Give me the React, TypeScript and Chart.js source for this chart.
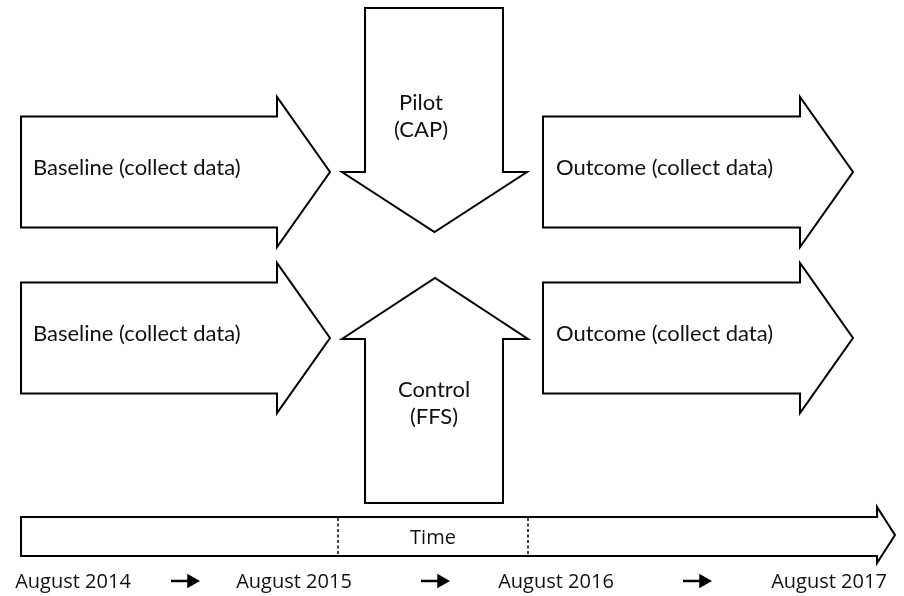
import React, { useEffect, useRef } from "react";
import { Chart, registerables } from "chart.js";

Chart.register(...registerables);

// ---- Horizontal process arrows (Baseline / Outcome) ----
const processLabels = [
  "Baseline (collect data)",
  "Outcome (collect data)",
  "Baseline (collect data)",
  "Outcome (collect data)",
];
const processStartX = [21, 543, 21, 543];
const processNeckX = [277, 800, 277, 800];
const processTipX = [330, 853, 330, 853];
const processCenterY = [172, 172, 338, 338];
const processBodyHalf = [55.5, 55.5, 55.5, 55.5];
const processHeadHalf = [75, 75, 75, 75];
const processTextX = [33, 556, 33, 556];

// ---- Vertical intervention arrows (Pilot / Control) ----
const interventionLine1 = ["Pilot", "Control"];
const interventionLine2 = ["(CAP)", "(FFS)"];
const interventionShaftLeft = [365, 365];
const interventionShaftRight = [503, 503];
const interventionHeadLeft = [342, 342];
const interventionHeadRight = [527, 528];
const interventionBaseY = [8, 503];
const interventionShoulderY = [172, 339];
const interventionTipY = [232, 278];
const interventionTextX = [421, 434];
const interventionTextY1 = [103, 390];
const interventionTextY2 = [130, 417];

// ---- Timeline arrow ----
const timelineLeft = [21];
const timelineTop = [517];
const timelineBottom = [556];
const timelineNeck = [877];
const timelineHeadTop = [507];
const timelineHeadBottom = [563];
const timelineTip = [895];
const timelineDividers = [338, 528];
const timelineLabel = ["Time"];
const timelineLabelX = [433];
const timelineLabelY = [538];

// ---- Date labels and small arrows ----
const dateLabels = ["August 2014", "August 2015", "August 2016", "August 2017"];
const dateCenterX = [73, 294, 556, 829];
const dateY = [582];
const smallArrowStart = [171, 421, 683];
const smallArrowTip = [200, 450, 712];
const smallArrowY = [581];

const W = 904;
const H = 596;

type P = { x: number; y: number };

function closePoly(pts: P[]): P[] {
  return [...pts, pts[0], pts[1]];
}

function outline(data: P[], extra: any = {}) {
  return {
    type: "line" as const,
    data,
    borderColor: "#000",
    borderWidth: 2,
    pointRadius: 0,
    fill: false,
    tension: 0,
    borderJoinStyle: "miter" as const,
    clip: false as any,
    ...extra,
  };
}

export default function App() {
  const ref = useRef<HTMLCanvasElement | null>(null);

  useEffect(() => {
    if (!ref.current) return;
    const datasets: any[] = [];

    processLabels.forEach((_, i) => {
      const x0 = processStartX[i];
      const xn = processNeckX[i];
      const xt = processTipX[i];
      const cy = processCenterY[i];
      const b = processBodyHalf[i];
      const h = processHeadHalf[i];
      datasets.push(
        outline(
          closePoly([
            { x: x0, y: cy - b },
            { x: xn, y: cy - b },
            { x: xn, y: cy - h },
            { x: xt, y: cy },
            { x: xn, y: cy + h },
            { x: xn, y: cy + b },
            { x: x0, y: cy + b },
          ])
        )
      );
    });

    interventionLine1.forEach((_, i) => {
      const l = interventionShaftLeft[i];
      const r = interventionShaftRight[i];
      const hl = interventionHeadLeft[i];
      const hr = interventionHeadRight[i];
      const by = interventionBaseY[i];
      const sy = interventionShoulderY[i];
      const ty = interventionTipY[i];
      const cx = (hl + hr) / 2;
      datasets.push(
        outline(
          closePoly([
            { x: l, y: by },
            { x: r, y: by },
            { x: r, y: sy },
            { x: hr, y: sy },
            { x: cx, y: ty },
            { x: hl, y: sy },
            { x: l, y: sy },
          ])
        )
      );
    });

    datasets.push(
      outline(
        closePoly([
          { x: timelineLeft[0], y: timelineTop[0] },
          { x: timelineNeck[0], y: timelineTop[0] },
          { x: timelineNeck[0], y: timelineHeadTop[0] },
          { x: timelineTip[0], y: (timelineHeadTop[0] + timelineHeadBottom[0]) / 2 },
          { x: timelineNeck[0], y: timelineHeadBottom[0] },
          { x: timelineNeck[0], y: timelineBottom[0] },
          { x: timelineLeft[0], y: timelineBottom[0] },
        ])
      )
    );

    timelineDividers.forEach((x) => {
      datasets.push(
        outline(
          [
            { x, y: timelineTop[0] + 1 },
            { x, y: timelineBottom[0] - 1 },
          ],
          { borderWidth: 1.5, borderDash: [3, 2.5] }
        )
      );
    });

    smallArrowStart.forEach((x0, i) => {
      const tip = smallArrowTip[i];
      const r = 8.5;
      datasets.push(
        outline(
          [
            { x: x0, y: smallArrowY[0] },
            { x: tip - r, y: smallArrowY[0] },
          ],
          { borderWidth: 2.5 }
        )
      );
      datasets.push({
        type: "scatter",
        data: [{ x: tip - r, y: smallArrowY[0] }],
        pointStyle: "triangle",
        rotation: 90,
        pointRadius: r,
        pointBorderWidth: 0,
        backgroundColor: "#000",
        borderColor: "#000",
        clip: false,
      });
    });

    const textPlugin = {
      id: "diagramText",
      afterDatasetsDraw(chart: any) {
        const ctx = chart.ctx as CanvasRenderingContext2D;
        const xs = chart.scales.x;
        const ys = chart.scales.y;
        ctx.save();
        ctx.fillStyle = "#111";
        ctx.textBaseline = "middle";
        ctx.font = "22px Lato";
        ctx.textAlign = "left";
        processLabels.forEach((t, i) => {
          ctx.fillText(t, xs.getPixelForValue(processTextX[i]), ys.getPixelForValue(processCenterY[i] - 4));
        });
        ctx.textAlign = "center";
        interventionLine1.forEach((t, i) => {
          ctx.fillText(t, xs.getPixelForValue(interventionTextX[i]), ys.getPixelForValue(interventionTextY1[i]));
          ctx.fillText(interventionLine2[i], xs.getPixelForValue(interventionTextX[i]), ys.getPixelForValue(interventionTextY2[i]));
        });
        ctx.font = "20px 'Open Sans'";
        ctx.fillText(timelineLabel[0], xs.getPixelForValue(timelineLabelX[0]), ys.getPixelForValue(timelineLabelY[0]));
        dateLabels.forEach((t, i) => {
          ctx.fillText(t, xs.getPixelForValue(dateCenterX[i]), ys.getPixelForValue(dateY[0]));
        });
        ctx.restore();
      },
    };

    const chart = new Chart(ref.current, {
      type: "line",
      data: { datasets },
      options: {
        animation: false,
        responsive: false,
        maintainAspectRatio: false,
        layout: { padding: 0, autoPadding: false },
        plugins: { legend: { display: false }, tooltip: { enabled: false } },
        scales: {
          x: { type: "linear", min: 0, max: W, display: false },
          y: { type: "linear", min: 0, max: H, reverse: true, display: false },
        },
      },
      plugins: [textPlugin],
    });
    return () => chart.destroy();
  }, []);

  return (
    <div style={{ position: "absolute", left: 0, top: 0, width: W, height: H, background: "#fff" }}>
      <canvas ref={ref} width={W} height={H} style={{ width: W, height: H, display: "block" }} />
    </div>
  );
}
